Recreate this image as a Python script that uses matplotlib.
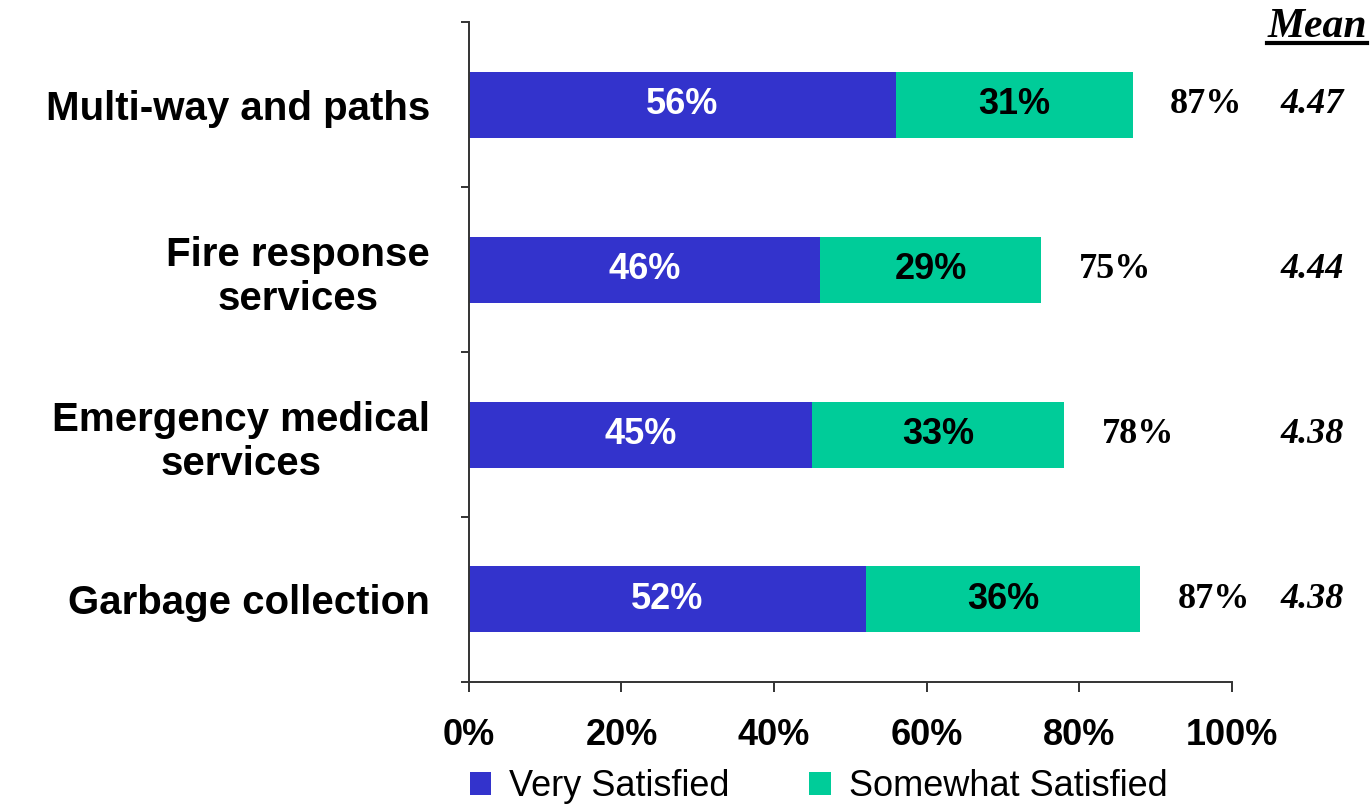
import numpy as np
import matplotlib
matplotlib.use("Agg")
import matplotlib.pyplot as plt
from matplotlib.lines import Line2D

# data, top row first
categories = ["Multi-way and paths", "Fire response\nservices",
              "Emergency medical\nservices", "Garbage collection"]
very_satisfied = [56, 46, 45, 52]
somewhat_satisfied = [31, 29, 33, 36]
total_labels = ["87%", "75%", "78%", "87%"]
means = ["4.47", "4.44", "4.38", "4.38"]
x_ticks = [0, 20, 40, 60, 80, 100]

blue = "#3333CC"
green = "#00CC99"
sans = "Liberation Sans"
serif = "Liberation Serif"

fig = plt.figure(figsize=(13.71, 8.07), dpi=100)
ax = fig.add_axes([0.342, 0.155, 0.5565, 0.8175])

y = np.arange(len(categories))
b1 = ax.barh(y, very_satisfied, height=0.4, color=blue, label="Very Satisfied")
b2 = ax.barh(y, somewhat_satisfied, left=very_satisfied, height=0.4, color=green,
             label="Somewhat Satisfied")

ax.set_xlim(0, 100)
ax.set_ylim(len(categories) - 0.5, -0.5)

for i in range(len(categories)):
    v = very_satisfied[i]
    s = somewhat_satisfied[i]
    ax.text(v / 2, i, f"{v}%", ha="center", va="center", color="white",
            fontsize=26, fontweight="bold", family=sans)
    ax.text(v + s / 2, i, f"{s}%", ha="center", va="center", color="black",
            fontsize=26, fontweight="bold", family=sans)
    ax.annotate(total_labels[i], (v + s, i), xytext=(27, 0), textcoords="offset points",
                ha="left", va="center", fontsize=26, fontweight="bold", family=serif,
                annotation_clip=False)
    ax.annotate(means[i], (1.0, i), xycoords=("axes fraction", "data"),
                xytext=(58, 0), textcoords="offset points", ha="center", va="center",
                fontsize=26, fontweight="bold", fontstyle="italic", family=serif,
                annotation_clip=False)

# axis styling
ax.spines["top"].set_visible(False)
ax.spines["right"].set_visible(False)
for side in ["left", "bottom"]:
    ax.spines[side].set_color("#333333")
    ax.spines[side].set_linewidth(1.4)
ax.set_xticks(x_ticks)
ax.set_xticklabels([f"{t}%" for t in x_ticks], fontsize=26, fontweight="bold", family=sans)
ax.tick_params(axis="x", length=7, width=1.4, pad=19, color="#333333")
ax.set_yticks(y)
ax.set_yticklabels(categories, fontsize=29, fontweight="bold", family=sans,
                   multialignment="center")
ax.tick_params(axis="y", which="major", length=0, pad=28)
ax.set_yticks(np.arange(len(categories) + 1) - 0.5, minor=True)
ax.tick_params(axis="y", which="minor", length=6, width=1.4, color="#333333")

# "Mean" header with underline
mt = fig.text(0.997, 0.966, "Mean", ha="right", va="center", fontsize=30,
              fontweight="bold", fontstyle="italic", family=serif)
fig.canvas.draw()
bb = mt.get_window_extent().transformed(fig.transFigure.inverted())
fig.add_artist(Line2D([bb.x0, bb.x1], [bb.y0 + 0.004, bb.y0 + 0.004],
                      transform=fig.transFigure, color="black", lw=3))

fig.legend(handles=[b1, b2], loc="center", bbox_to_anchor=(0.597, 0.025), ncol=2,
           frameon=False, prop={"family": sans, "size": 26}, handlelength=0.6,
           handleheight=0.6, handletextpad=0.5, columnspacing=2.2)

fig.savefig("out.png", dpi=100)
